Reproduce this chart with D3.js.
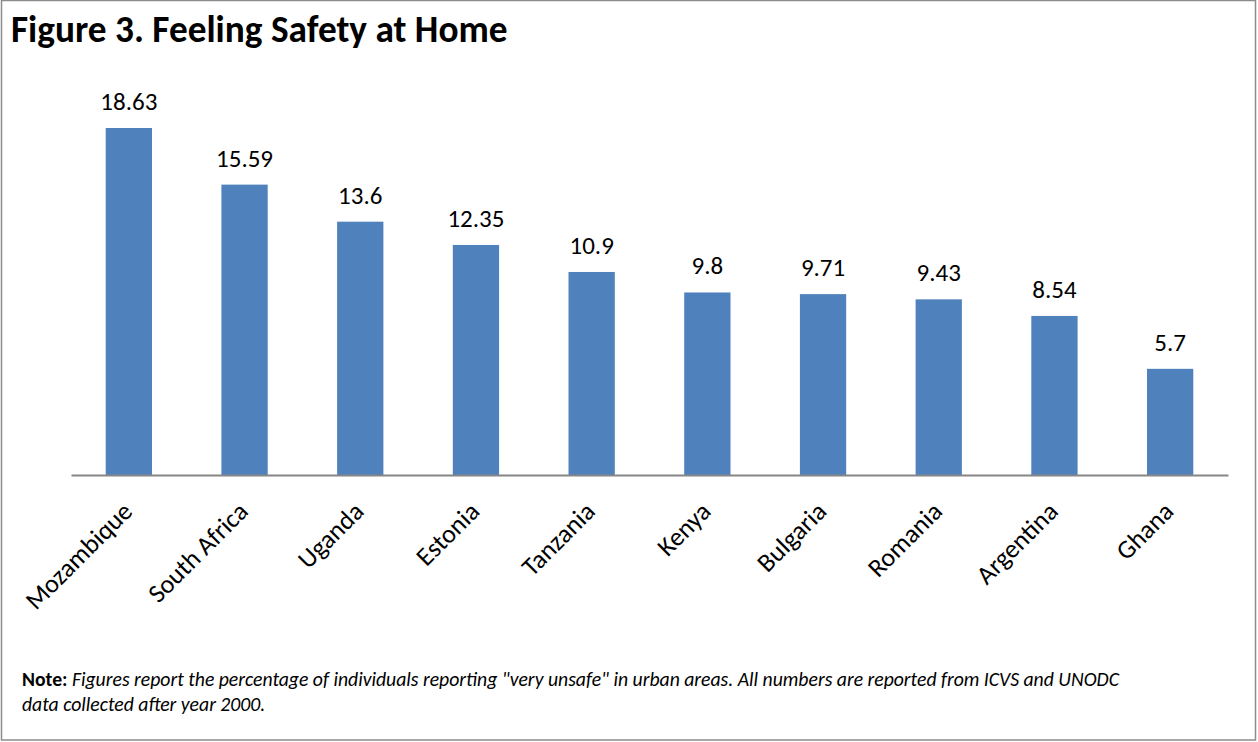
<!DOCTYPE html>
<html>
<head>
<meta charset="utf-8">
<script src="https://cdn.jsdelivr.net/npm/d3@7"></script>
<style>
  html, body { margin: 0; padding: 0; background: #fff; }
  svg { display: block; }
  text { font-family: Carlito, Lato, sans-serif; fill: #000; }
</style>
</head>
<body>
<svg id="chart" width="1258" height="742"></svg>
<script>
const categories = ["Mozambique", "South Africa", "Uganda", "Estonia", "Tanzania", "Kenya", "Bulgaria", "Romania", "Argentina", "Ghana"];
const values = [18.63, 15.59, 13.6, 12.35, 10.9, 9.8, 9.71, 9.43, 8.54, 5.7];
const valueLabels = ["18.63", "15.59", "13.6", "12.35", "10.9", "9.8", "9.71", "9.43", "8.54", "5.7"];
const title = "Figure 3. Feeling Safety at Home";
const noteBold = "Note:";
const noteLine1 = " Figures report the percentage of individuals reporting \"very unsafe\" in urban areas. All numbers are reported from ICVS and UNODC";
const noteLine2 = "data collected after year 2000.";

const svg = d3.select("#chart");

// outer border
svg.append("rect")
  .attr("x", 1.5).attr("y", 0.5).attr("width", 1254).attr("height", 739.5)
  .attr("fill", "#fff").attr("stroke", "#8c8c8c").attr("stroke-width", 1.5);

const x = d3.scaleBand().domain(categories).range([71, 1228]).paddingInner(0.6).paddingOuter(0.3);
const y = d3.scaleLinear().domain([0, 18.63]).range([475, 128]);

// title
svg.append("text").attr("x", 11).attr("y", 42)
  .style("font-size", "37.3px").style("font-weight", "bold").text(title);

// bars
svg.append("g").selectAll("rect").data(values).join("rect")
  .attr("x", (d, i) => x(categories[i]))
  .attr("y", d => y(d))
  .attr("width", x.bandwidth())
  .attr("height", d => y(0) - y(d))
  .attr("fill", "#4f81bd");

// axis
const axis = svg.append("g").attr("transform", `translate(0,${y(0)})`)
  .call(d3.axisBottom(x).tickSize(0).tickFormat(""));
axis.select(".domain").attr("stroke", "#868686").attr("stroke-width", 2);

// category labels
svg.append("g").selectAll("text").data(categories).join("text")
  .attr("text-anchor", "end")
  .attr("transform", d => `translate(${x(d) + x.bandwidth() / 2 + 5},${y(0) + 38}) rotate(-45)`)
  .style("font-size", "26px")
  .text(d => d);

// value labels
svg.append("g").selectAll("text").data(values).join("text")
  .attr("text-anchor", "middle")
  .attr("x", (d, i) => x(categories[i]) + x.bandwidth() / 2)
  .attr("y", d => y(d) - 18)
  .style("font-size", "25px")
  .text((d, i) => valueLabels[i]);

// note
const n1 = svg.append("text").attr("x", 22).attr("y", 686).style("font-size", "19.7px");
n1.append("tspan").style("font-weight", "bold").text(noteBold);
n1.append("tspan").style("font-style", "italic").text(noteLine1);
svg.append("text").attr("x", 22).attr("y", 711).style("font-size", "19.7px")
  .style("font-style", "italic").text(noteLine2);
</script>
</body>
</html>
